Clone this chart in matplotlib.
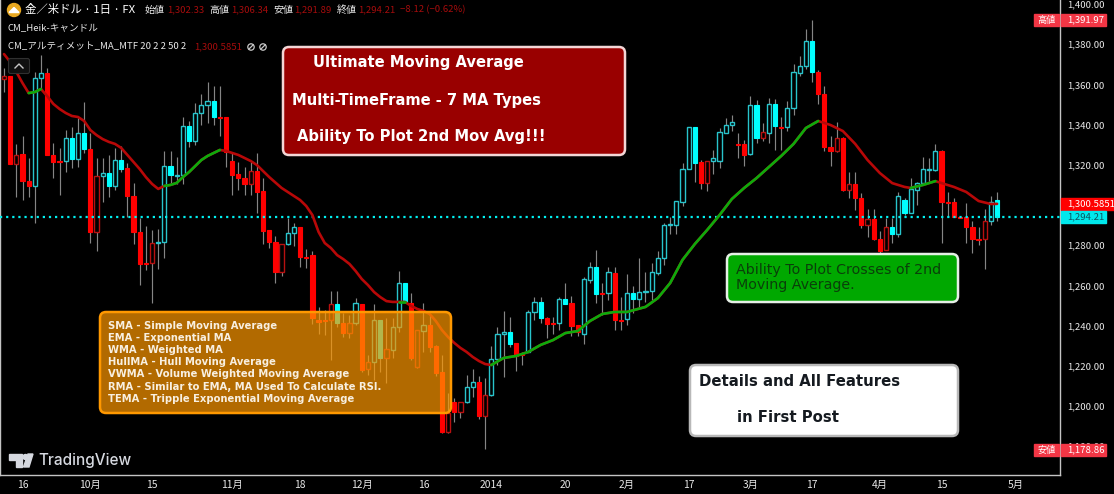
import numpy as np
import matplotlib
matplotlib.use("Agg")
import matplotlib.pyplot as plt
from matplotlib.patches import FancyBboxPatch, Circle, Polygon, Rectangle

plt.rcParams["font.family"] = ["Noto Sans CJK JP", "DejaVu Sans"]

# daily candles
highs = [1368.2,1364.2,1330.4,1334.3,1323.4,1366.2,1374.6,1368.2,1330.9,1328.4,
         1337.3,1338.8,1343.3,1351.3,1335.8,1323.4,1323.4,1324.9,1328.4,1329.4,
         1320.9,1311.0,1293.5,1289.6,1287.6,1288.1,1326.9,1326.9,1323.9,1343.8,
         1341.8,1350.8,1355.2,1361.2,1359.2,1359.2,1343.8,1326.4,1321.4,1318.9,
         1321.4,1325.9,1313.4,1287.6,1284.6,1280.6,1293.5,1291.1,1289.1,1278.1,
         1277.1,1249.3,1247.8,1257.2,1257.2,1246.3,1245.3,1253.7,1250.8,1225.4,
         1250.8,1242.8,1243.8,1243.8,1267.2,1261.2,1256.2,1237.8,1251.3,1245.3,
         1230.4,1225.4,1206.5,1204.0,1202.0,1215.4,1218.4,1214.9,1213.9,1229.9,
         1239.3,1247.3,1244.3,1231.4,1226.9,1247.8,1254.2,1254.2,1244.3,1244.3,
         1254.2,1261.2,1254.7,1240.3,1264.2,1271.7,1277.6,1261.2,1269.2,1269.2,
         1254.2,1265.7,1259.7,1273.6,1266.7,1271.2,1277.1,1291.1,1294.0,1302.0,
         1320.9,1338.8,1338.8,1322.4,1321.9,1327.4,1338.3,1343.3,1344.8,1335.8,
         1332.4,1354.2,1352.2,1340.8,1353.2,1352.7,1343.8,1351.8,1370.2,1374.1,
         1387.6,1391.97,1367.2,1359.2,1334.3,1341.3,1333.8,1316.4,1316.4,1306.0,
         1298.0,1298.0,1287.1,1293.5,1293.5,1306.5,1303.5,1313.4,1311.5,1323.9,
         1323.4,1330.4,1327.4,1306.5,1303.5,1294.0,1301.0,1292.1,1289.1,1298.0,1304.5,1306.34]
body_tops = [1364.2,1364.2,1324.9,1325.4,1312.0,1363.2,1365.7,1365.7,1324.9,1321.9,
             1333.3,1333.3,1335.8,1335.8,1327.9,1314.4,1315.9,1315.9,1322.4,1322.4,
             1318.4,1304.5,1286.6,1271.2,1281.1,1281.6,1319.4,1319.4,1314.9,1339.3,
             1339.3,1345.8,1349.8,1351.8,1351.8,1343.8,1343.8,1321.9,1315.4,1313.4,
             1316.9,1316.9,1307.0,1287.6,1281.6,1280.6,1286.1,1289.1,1289.1,1274.1,
             1275.1,1242.8,1242.8,1250.8,1250.8,1241.3,1241.3,1251.3,1250.8,1221.9,
             1242.8,1242.8,1228.4,1239.3,1261.2,1261.2,1251.3,1237.8,1240.3,1240.3,
             1229.9,1216.9,1196.5,1202.0,1202.0,1209.5,1211.9,1211.9,1205.5,1223.4,
             1235.8,1236.8,1236.8,1231.4,1225.9,1246.8,1251.8,1251.8,1243.8,1241.3,
             1253.2,1253.2,1251.3,1240.3,1263.2,1269.2,1269.2,1256.2,1266.7,1266.2,
             1242.8,1256.2,1256.2,1256.7,1257.2,1266.7,1273.6,1290.1,1290.6,1302.0,
             1317.9,1338.8,1338.8,1321.4,1321.9,1323.4,1336.3,1339.8,1341.3,1330.4,
             1330.4,1349.8,1349.8,1336.3,1350.3,1350.3,1338.8,1348.3,1366.2,1369.2,
             1381.6,1381.6,1366.2,1355.2,1328.9,1333.3,1333.3,1310.5,1310.5,1303.5,
             1293.0,1293.0,1283.1,1289.1,1289.1,1304.5,1302.5,1308.0,1311.0,1317.9,
             1317.9,1326.9,1326.9,1301.5,1301.5,1294.0,1294.0,1289.1,1283.1,1292.1,1301.5,1302.33]
body_bottoms = [1362.7,1320.4,1320.4,1312.0,1309.5,1309.5,1363.2,1324.9,1321.4,1321.4,
                1321.9,1322.9,1322.9,1327.9,1286.6,1286.6,1314.4,1309.5,1309.5,1317.9,
                1304.5,1286.6,1270.7,1270.7,1271.2,1281.1,1281.6,1314.9,1314.4,1314.9,
                1331.9,1331.9,1345.8,1349.8,1343.8,1343.3,1326.4,1314.9,1313.4,1310.5,
                1310.5,1306.5,1287.1,1281.6,1266.7,1266.7,1280.6,1286.1,1274.1,1273.6,
                1243.8,1241.8,1242.3,1242.8,1241.3,1236.3,1236.3,1241.3,1217.9,1218.4,
                1221.9,1223.9,1223.9,1227.9,1239.3,1251.8,1223.9,1219.4,1237.3,1229.4,
                1216.4,1187.1,1187.1,1197.0,1197.0,1202.0,1209.5,1195.0,1195.0,1205.5,
                1223.4,1235.8,1230.9,1224.9,1225.4,1226.9,1246.8,1243.8,1240.8,1240.8,
                1241.3,1250.8,1239.8,1236.8,1235.8,1262.7,1255.7,1255.7,1256.2,1242.8,
                1242.3,1243.3,1253.2,1253.2,1256.7,1257.2,1266.2,1273.6,1290.1,1290.1,
                1301.5,1317.9,1320.9,1311.0,1311.0,1321.9,1321.9,1335.8,1339.8,1329.9,
                1324.9,1325.4,1333.3,1333.3,1335.8,1339.3,1338.3,1338.8,1348.3,1365.7,
                1369.2,1366.2,1355.2,1328.9,1326.9,1326.9,1307.5,1307.5,1303.5,1290.1,
                1290.1,1283.1,1277.1,1277.6,1285.6,1285.6,1296.0,1296.0,1307.5,1311.0,
                1317.4,1317.4,1301.5,1301.0,1294.0,1293.5,1289.1,1283.1,1282.6,1283.1,1292.1,1294.21]
lows = [1356.2,1320.4,1304.0,1302.5,1304.0,1291.1,1358.2,1324.9,1313.4,1305.0,
        1316.4,1318.4,1318.9,1325.9,1281.1,1277.1,1301.5,1304.0,1307.5,1316.4,
        1294.0,1280.6,1260.2,1267.7,1251.3,1268.2,1273.6,1310.5,1310.5,1310.5,
        1328.9,1329.9,1339.8,1340.8,1339.8,1334.3,1318.9,1305.0,1307.5,1305.0,
        1305.0,1296.0,1280.6,1278.6,1261.2,1264.7,1280.1,1279.6,1269.2,1268.7,
        1240.8,1235.8,1235.3,1222.9,1239.3,1234.3,1233.8,1240.3,1216.9,1215.4,
        1212.9,1216.9,1211.5,1223.9,1236.8,1251.3,1222.9,1218.9,1226.9,1226.9,
        1214.9,1186.6,1186.6,1192.0,1194.0,1201.5,1204.5,1193.5,1178.86,1205.0,
        1220.4,1214.4,1229.4,1217.4,1220.4,1226.9,1242.8,1241.3,1233.8,1235.8,
        1237.8,1250.8,1234.8,1234.8,1230.9,1261.2,1251.3,1245.3,1252.8,1237.8,
        1237.8,1240.3,1246.3,1248.8,1251.8,1252.8,1265.2,1270.2,1285.6,1285.6,
        1299.5,1317.9,1311.5,1308.0,1307.0,1315.4,1318.4,1335.8,1336.8,1323.4,
        1319.4,1324.9,1330.9,1331.9,1330.9,1327.4,1327.4,1336.8,1344.8,1364.2,
        1367.7,1361.2,1350.3,1326.9,1319.4,1326.4,1307.0,1303.5,1297.5,1288.6,
        1284.1,1282.6,1276.1,1277.6,1281.1,1284.1,1295.0,1296.0,1300.0,1310.0,
        1311.0,1316.9,1281.1,1294.0,1294.0,1293.5,1281.1,1276.1,1280.1,1268.2,1290.1,1291.89]
# F red filled, H red hollow, C cyan filled, K cyan hollow
kinds = ("HFHFFKKFFF" "KCKCFHKCKC" "FFFFHKKCKK" "CKKKCFFFFF" "HFFFFHKKFF"
         "FFFHCFHKFH" "KCHKKCFHKF" "FFHFHKKFHK" "KKCFFKKCFF" "KCFFKKCFKF"
         "FKCKKKKKKK" "KKCFHKKKKF" "FKCHKCFKKK" "KCFFFHFHFF" "HFFHCKCKKK"
         "KKFFFFFFFHKC")

# moving average, read at these candles
ma_index = [0,1,2,3,4,5,6,7,8,9,10,11,12,13,14,15,16,17,18,19,20,21,22,23,24,25,26,27,28,29,
            30,31,32,33,34,35,36,37,38,39,40,41,42,43,45,46,48,49,50,51,52,53,54,55,56,57,58,59,
            60,61,62,63,64,65,66,67,68,69,70,71,72,73,74,75,76,77,78,79,81,83,85,87,89,91,93,95,
            97,99,101,104,106,108,110,112,114,116,118,120,122,124,126,128,130,132,134,136,138,
            140,142,144,146,147,149,151,152,154,156,158,160,161]
ma_values = [1375.1,1371.2,1366.2,1360.7,1355.7,1356.2,1357.7,1354.2,1350.3,1347.8,1345.8,1344.3,1343.8,
             1341.8,1337.3,1334.8,1332.8,1331.4,1330.4,1328.4,1324.9,1321.4,1317.9,1313.9,1310.5,1308.0,
             1309.5,1310.0,1311.0,1313.9,1316.4,1319.4,1322.4,1324.4,1325.9,1327.4,1326.9,1325.9,1324.9,
             1323.4,1321.9,1319.9,1316.9,1313.9,1308.5,1306.5,1302.5,1299.5,1295.0,1286.6,1281.1,1278.6,
             1275.1,1273.1,1270.7,1267.2,1263.2,1260.2,1256.7,1254.2,1252.2,1251.8,1251.8,1251.8,1249.8,
             1248.3,1247.3,1245.8,1242.3,1237.8,1234.3,1231.4,1228.9,1226.9,1224.4,1222.4,1220.9,1220.4,
             1223.9,1224.9,1226.9,1230.4,1232.8,1236.3,1237.3,1242.3,1245.8,1246.8,1246.8,1249.3,1253.7,
             1261.2,1272.7,1280.6,1287.6,1295.0,1303.0,1308.5,1313.4,1318.9,1324.4,1330.4,1338.3,1341.8,
             1339.8,1336.8,1330.4,1322.4,1315.9,1310.9,1309.0,1308.5,1310.0,1311.9,1310.9,1309.0,1306.5,
             1302.0,1300.5,1300.5851]
ma_rising = [(4, 6), (26, 35), (64, 65), (79, 132), (147, 151)]

last_close = 1294.21
ma_last = 1300.5851
high_mark = 1391.97
low_mark = 1178.86

# 1,300.00 sits wholly under the moving average tag in the original
y_ticks = [1400, 1380, 1360, 1340, 1320, 1280, 1260, 1240, 1220, 1200, 1180]
x_ticks = [3, 14, 24, 37, 48, 58, 68, 79, 91, 101, 111, 121, 131, 142, 152, 164]
x_labels = ["16", "10月", "15", "11月", "18", "12月", "16", "2014", "20", "2月", "17", "3月", "17", "4月", "15", "5月"]

box_lines_red = ["Ultimate Moving Average", "Multi-TimeFrame - 7 MA Types", "Ability To Plot 2nd Mov Avg!!!"]
box_lines_orange = ["SMA - Simple Moving Average", "EMA - Exponential MA", "WMA - Weighted MA",
                    "HullMA - Hull Moving Average", "VWMA - Volume Weighted Moving Average",
                    "RMA - Similar to EMA, MA Used To Calculate RSI.",
                    "TEMA - Tripple Exponential Moving Average"]

W, H = 1114, 494
fig = plt.figure(figsize=(W / 100, H / 100), dpi=100, facecolor="black")
pane_w, pane_h = 1060, 474.5
ax = fig.add_axes([0, 1 - pane_h / H, pane_w / W, pane_h / H], facecolor="black")

x = np.arange(len(highs))
ax.vlines(x, lows, highs, color="#858585", lw=0.85, zorder=2)

styles = {"F": ("#ff0000", "#ff0000", 0.8), "H": ("black", "#b81010", 1.0),
          "C": ("#00ffff", "#00ffff", 0.8), "K": ("black", "#28c4cc", 1.0)}
for i, k in enumerate(kinds):
    face, edge, lw = styles[k]
    h = max(body_tops[i] - body_bottoms[i], 0.5)
    ax.bar(i, h, bottom=body_bottoms[i], width=0.68, facecolor=face, edgecolor=edge, linewidth=lw, zorder=3)

ax.axhline(last_close, color="#00f0f0", lw=1.6, ls=(0, (1.0, 1.75)), zorder=4)

ma_i = np.array(ma_index)
ma_v = np.array(ma_values)
ax.plot(ma_i, ma_v, color="#b80808", lw=1.9, zorder=5, solid_capstyle="round")
for a, b in ma_rising:
    m = (ma_i >= a) & (ma_i <= b)
    ax.plot(ma_i[m], ma_v[m], color="#0cab0c", lw=1.9, zorder=6, solid_capstyle="round")

ax.set_xlim(-0.649, 171.2)
ax.set_ylim(1402 - pane_h * 0.4975, 1402)
ax.yaxis.tick_right()
ax.set_yticks(y_ticks)
ax.set_yticklabels(["{:,.2f}".format(v) for v in y_ticks], color="#e8e8e8", fontsize=6.9)
ax.set_xticks(x_ticks)
ax.set_xticklabels(x_labels, color="#e8e8e8", fontsize=7.4)
ax.tick_params(axis="both", length=0)
ax.tick_params(axis="y", pad=5)
ax.tick_params(axis="x", pad=4)
ax.spines["top"].set_visible(False)
for s in ["left", "right", "bottom"]:
    ax.spines[s].set_color("#c4c4c4")
    ax.spines[s].set_linewidth(1)

# overlay in pixels for the drawn boxes, legend and price tags
ov = fig.add_axes([0, 0, 1, 1], facecolor="none", zorder=10)
ov.set_xlim(0, W)
ov.set_ylim(H, 0)
ov.axis("off")


def box(x0, y0, x1, y1, face, edge, alpha=1.0, lw=1.8):
    p = FancyBboxPatch((x0 + 6, y0 + 6), x1 - x0 - 12, y1 - y0 - 12, boxstyle="round,pad=6,rounding_size=6",
                       facecolor=face, edgecolor="none", alpha=alpha, zorder=1)
    ov.add_patch(p)
    p = FancyBboxPatch((x0 + 6, y0 + 6), x1 - x0 - 12, y1 - y0 - 12, boxstyle="round,pad=6,rounding_size=6",
                       facecolor="none", edgecolor=edge, lw=lw, zorder=2)
    ov.add_patch(p)


def note(x0, y0, s, size, color="white"):
    ov.text(x0, y0, s, fontsize=size, color=color, family="DejaVu Sans", weight="bold", va="center", ha="left", zorder=3)


box(283, 47, 625, 155, "#990000", "#f3d6d6")
note(313, 63, box_lines_red[0], 10.6)
note(292, 100, box_lines_red[1], 10.6)
note(297, 136, box_lines_red[2], 10.6)

box(100, 312, 451, 413, "#ff9800", "#ff9800", alpha=0.7)
for j, s in enumerate(box_lines_orange):
    note(108, 326 + j * 12.1, s, 7.2, "#f8efe0")

box(727, 254, 958, 302, "#00a800", "#e6efe6")
ov.text(736, 270, "Ability To Plot Crosses of 2nd", fontsize=10.3, color="#0a3f0a", family="DejaVu Sans", va="center")
ov.text(736, 285, "Moving Average.", fontsize=10.3, color="#0a3f0a", family="DejaVu Sans", va="center")

box(690, 365, 958, 436, "white", "#b8b8b8")
note(699, 381, "Details and All Features", 10.7, "#151a20")
note(737, 417, "in First Post", 10.7, "#151a20")

# header legend
ov.add_patch(Circle((14, 10), 6.5, color="#e8a820", zorder=3))
ov.add_patch(Polygon([[9, 12.5], [19, 12.5], [14, 7.5]], color="white", zorder=4))
ov.text(25, 10, "金／米ドル · 1日 · FX", fontsize=8.2, color="white", va="center")
for xp, s in [(145, "始値"), (209, "高値"), (273, "安値"), (337, "終値")]:
    ov.text(xp, 10, s, fontsize=7.2, color="#e8e8e8", va="center")
for xp, s in [(167, "1,302.33"), (231, "1,306.34"), (294, "1,291.89"), (358, "1,294.21"), (400, "−8.12 (−0.62%)")]:
    ov.text(xp, 10, s, fontsize=6.9, color="#a50c0c", va="center")
ov.text(8, 28.5, "CM_Heik-キャンドル", fontsize=6.9, color="#e8e8e8", va="center")
ov.text(8, 47, "CM_アルティメット_MA_MTF 20 2 2 50 2", fontsize=6.9, color="#e8e8e8", va="center")
ov.text(194, 47, "1,300.5851", fontsize=6.9, color="#a50c0c", va="center")
for xp in [251, 263]:
    ov.add_patch(Circle((xp, 47), 3.2, fill=False, ec="#c8c8c8", lw=0.9, zorder=3))
    ov.plot([xp - 2.2, xp + 2.2], [49.2, 44.8], color="#c8c8c8", lw=0.9, zorder=3)
ov.add_patch(FancyBboxPatch((10, 60), 18, 12, boxstyle="round,pad=1.5,rounding_size=2", fc="#101010", ec="#303030", lw=0.8, zorder=3))
ov.plot([15, 19, 23], [68, 64, 68], color="#c8c8c8", lw=1, zorder=4)

# TradingView mark
ov.add_patch(Polygon([[9, 454], [22, 454], [22, 467], [16, 467], [16, 460], [9, 460]], color="#d6d9e0", zorder=3))
ov.add_patch(Circle((25.5, 457), 2.5, color="#d6d9e0", zorder=3))
ov.add_patch(Polygon([[23.5, 467], [29, 467], [33, 454], [28, 454]], color="#d6d9e0", zorder=3))
ov.text(38, 460.5, "TradingView", fontsize=11, color="#d6d9e0", family="Inter", weight="medium", va="center")


# price tags on the axis
def tag(y, s, face, color="white", x1=1106, side=None):
    ov.add_patch(Rectangle((1061, y - 6), x1 - 1061, 12, color=face, zorder=3))
    ov.text(1067, y, s, fontsize=6.9, color=color, va="center", zorder=4)
    if side:
        ov.add_patch(Rectangle((1034, y - 6), 25, 12, color=face, zorder=3))
        ov.text(1046.5, y, side, fontsize=6.6, color="white", va="center", ha="center", zorder=4)


def ypx(v):
    # price to overlay pixels through the chart's own scale
    return H - ax.transData.transform((0, v))[1]


tag(ypx(high_mark), "{:,.2f}".format(high_mark), "#f23645", side="高値")
tag(ypx(ma_last), "{:,.4f}".format(ma_last), "#ff0000", x1=1114)
tag(ypx(last_close), "{:,.2f}".format(last_close), "#00e8ec", color="#0a5560")
tag(ypx(low_mark) + 1.5, "{:,.2f}".format(low_mark), "#f23645", side="安値")

fig.savefig("out.png", dpi=100, facecolor="black")
